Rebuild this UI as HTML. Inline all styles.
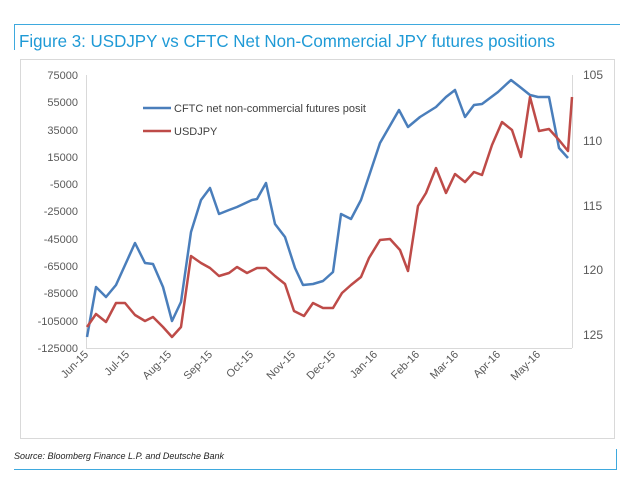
<!DOCTYPE html>
<html><head><meta charset="utf-8"><style>
body{margin:0;background:#fff;}
svg text{font-family:"Liberation Sans",sans-serif;}
</style></head><body>
<svg width="630" height="490" viewBox="0 0 630 490" xmlns="http://www.w3.org/2000/svg">
<rect width="630" height="490" fill="#fff"/>
<line x1="14" y1="24.5" x2="620" y2="24.5" stroke="#3ea9de" stroke-width="1"/>
<line x1="14.5" y1="24" x2="14.5" y2="50" stroke="#3ea9de" stroke-width="1"/>
<text x="19" y="47" font-size="17.5" fill="#1f9ad6" textLength="536" lengthAdjust="spacingAndGlyphs">Figure 3: USDJPY vs CFTC Net Non-Commercial JPY futures positions</text>
<rect x="20.5" y="59.5" width="594" height="379" fill="#fff" stroke="#d9d9d9"/>
<g stroke="#d9d9d9" stroke-width="1">
<line x1="86.5" y1="75" x2="86.5" y2="348"/>
<line x1="572.5" y1="75" x2="572.5" y2="348"/>
<line x1="86" y1="348.5" x2="572" y2="348.5"/>
</g>
<g font-size="11" fill="#595959" text-anchor="end">
<text x="78" y="79">75000</text><text x="78" y="106">55000</text><text x="78" y="134">35000</text>
<text x="78" y="161">15000</text><text x="78" y="188">-5000</text><text x="78" y="215">-25000</text>
<text x="78" y="243">-45000</text><text x="78" y="270">-65000</text><text x="78" y="297">-85000</text>
<text x="78" y="325">-105000</text><text x="78" y="352">-125000</text>
</g>
<g font-size="12" fill="#595959">
<text x="583" y="79">105</text><text x="583" y="145">110</text><text x="583" y="210">115</text>
<text x="583" y="274">120</text><text x="583" y="339">125</text>
</g>
<g font-size="11" fill="#595959" text-anchor="end">
<text transform="translate(89,355) rotate(-45)">Jun-15</text>
<text transform="translate(130,355) rotate(-45)">Jul-15</text>
<text transform="translate(172,355) rotate(-45)">Aug-15</text>
<text transform="translate(213,355) rotate(-45)">Sep-15</text>
<text transform="translate(254,355) rotate(-45)">Oct-15</text>
<text transform="translate(296,355) rotate(-45)">Nov-15</text>
<text transform="translate(336,355) rotate(-45)">Dec-15</text>
<text transform="translate(378,355) rotate(-45)">Jan-16</text>
<text transform="translate(420,355) rotate(-45)">Feb-16</text>
<text transform="translate(459,355) rotate(-45)">Mar-16</text>
<text transform="translate(501,355) rotate(-45)">Apr-16</text>
<text transform="translate(541,355) rotate(-45)">May-16</text>
</g>
<polyline fill="none" stroke="#4a7ebb" stroke-width="2.5" stroke-linejoin="round" points="87,337 96,287 106,297 116,285 135,243 145,263 153,264 163,287 172,321 181,302 191,232 201,200 210,188 219,214 229,210 237,207 252,200 257,199 266,183 275,224 285,237 295,268 303,285 313,284 323,281 333,272 341,214 351,219 361,200 380,143 399,110 408,127 420,117 436,107 446,97 455,90 465,117 474,105 482,104 498,92 511,80 520,87 530,95 538,97 549,97 559,148 568,158"/>
<polyline fill="none" stroke="#be4b48" stroke-width="2.5" stroke-linejoin="round" points="87,327 96,314 106,322 116,303 125,303 135,315 145,321 153,317 163,327 172,337 181,327 191,256 201,263 210,268 219,276 229,273 237,267 247,273 257,268 266,268 275,276 285,284 294,311 304,316 313,303 323,308 333,308 342,293 351,285 361,277 369,258 380,240 390,239 400,250 408,271 418,206 426,193 436,168 446,193 455,174 465,182 474,172 482,175 492,145 502,122 512,130 521,157 530,97 539,131 549,129 559,140 568,151 572,97"/>
<line x1="143" y1="108" x2="171" y2="108" stroke="#4a7ebb" stroke-width="2.5"/>
<text x="174" y="112" font-size="11" fill="#404040">CFTC net non-commercial futures posit</text>
<line x1="143" y1="131" x2="171" y2="131" stroke="#be4b48" stroke-width="2.5"/>
<text x="174" y="135" font-size="11" fill="#404040">USDJPY</text>
<text x="14" y="459" font-size="9" font-style="italic" fill="#222">Source:  Bloomberg Finance L.P. and Deutsche Bank</text>
<line x1="14" y1="469.5" x2="617" y2="469.5" stroke="#3ea9de" stroke-width="1"/>
<line x1="616.5" y1="449" x2="616.5" y2="470" stroke="#3ea9de" stroke-width="1"/>
</svg>
</body></html>
